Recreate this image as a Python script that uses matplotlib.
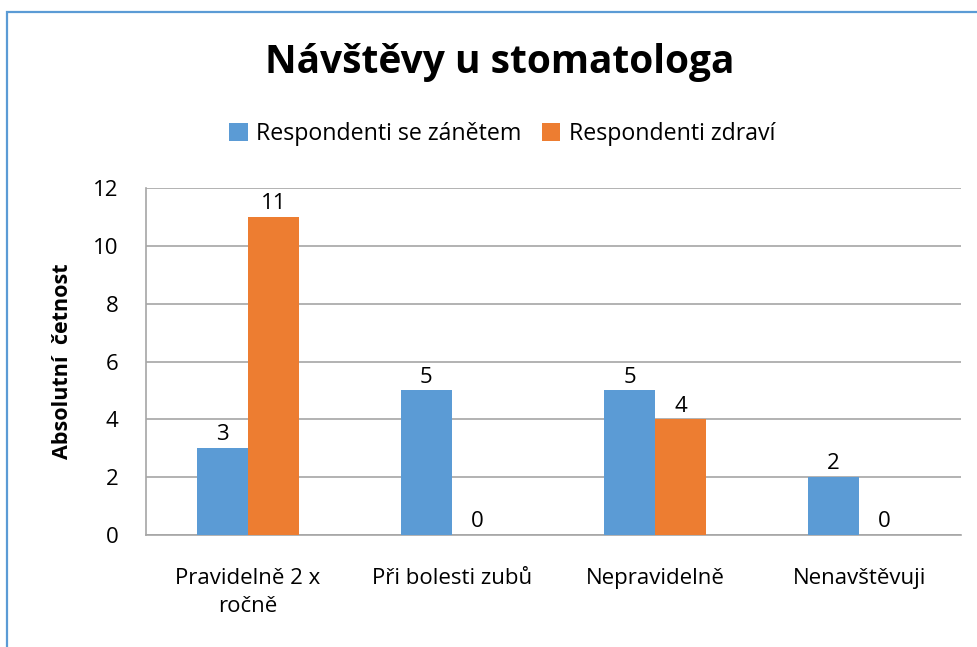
import matplotlib
matplotlib.use("Agg")
import matplotlib.pyplot as plt
from matplotlib.patches import Rectangle
import numpy as np

categories = ["Pravidelně 2 x\nročně", "Při bolesti zubů", "Nepravidelně", "Nenavštěvuji"]
series_names = ["Respondenti se zánětem", "Respondenti zdraví"]
zanet = [3, 5, 5, 2]
zdravi = [11, 0, 4, 0]
yticks = [0, 2, 4, 6, 8, 10, 12]

BLUE = "#5B9BD5"
ORANGE = "#ED7D31"
plt.rcParams['font.family'] = ['Open Sans', 'DejaVu Sans']

W, H = 977, 647
fig = plt.figure(figsize=(W/100, H/100), dpi=100)
ax = fig.add_axes([146/W, 1-535/H, (961-146)/W, (535-188)/H])

FS = 16
x = np.arange(len(categories))
bw = 0.25
b1 = ax.bar(x - bw/2, zanet, bw, color=BLUE, label=series_names[0], zorder=3)
b2 = ax.bar(x + bw/2, zdravi, bw, color=ORANGE, label=series_names[1], zorder=3)
for bars in (b1, b2):
    ax.bar_label(bars, padding=2, fontsize=FS, color="black")

ax.set_xlim(-0.5, len(categories) - 0.5)
ax.set_ylim(0, 12)
ax.set_yticks(yticks)
ax.set_xticks(x)
ax.set_xticklabels(categories, fontsize=FS, linespacing=1.4)
ax.tick_params(axis='y', labelsize=FS, length=0, pad=20)
ax.tick_params(axis='x', length=0, pad=24)
ax.grid(axis='y', color="#A6A6A6", linewidth=1.2, zorder=0)
for s in ['top', 'right']:
    ax.spines[s].set_visible(False)
for s in ['left', 'bottom']:
    ax.spines[s].set_color("#A6A6A6")
    ax.spines[s].set_linewidth(1.2)

ax.set_ylabel("Absolutní  četnost", fontsize=15.5, fontweight='bold', labelpad=14)

fig.text(500/W, 1-62/H, "Návštěvy u stomatologa", fontsize=28, fontweight='bold',
         ha='center', va='center')
fig.legend(loc='center', bbox_to_anchor=(502/W, 1-134/H), ncol=2, frameon=False,
           fontsize=16.7, handlelength=0.8, handleheight=0.8, handletextpad=0.35,
           columnspacing=0.9)

fig.patches.append(Rectangle((7/W, -0.1), 1.2, 1-12/H+0.1, transform=fig.transFigure,
                             fill=False, edgecolor=BLUE, linewidth=1.6))

fig.savefig("out.png", dpi=100, facecolor="white")
